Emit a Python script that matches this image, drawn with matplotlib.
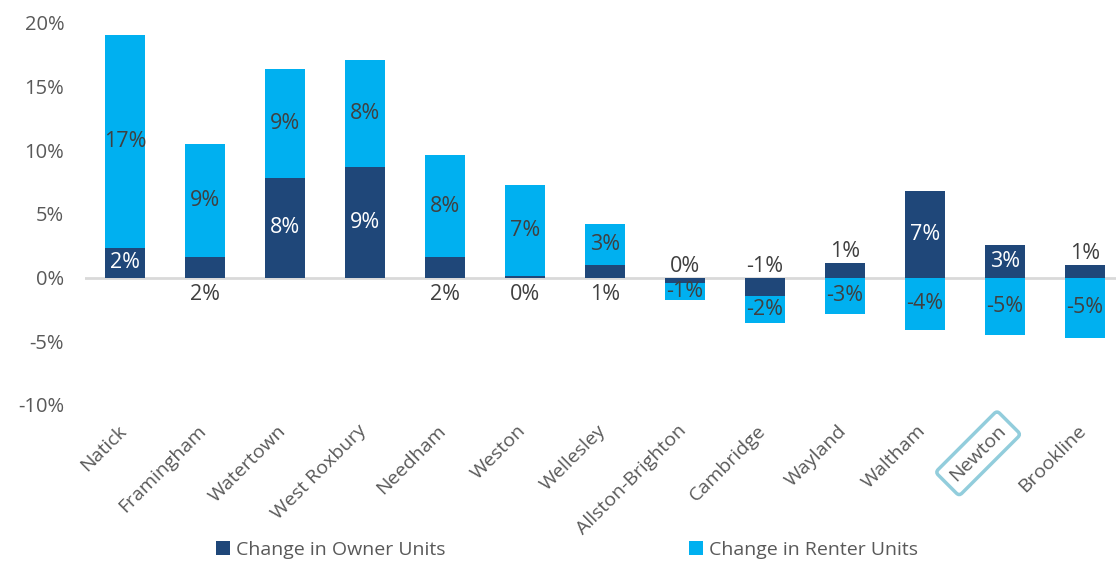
import matplotlib
matplotlib.use("Agg")
import matplotlib.pyplot as plt
import matplotlib.transforms as mtransforms
import numpy as np

categories = ["Natick", "Framingham", "Watertown", "West Roxbury", "Needham", "Weston",
              "Wellesley", "Allston-Brighton", "Cambridge", "Wayland", "Waltham", "Newton", "Brookline"]
owner = [2.3, 1.6, 7.8, 8.7, 1.6, 0.15, 1.0, -0.42, -1.46, 1.12, 6.82, 2.55, 0.98]
renter = [16.7, 8.85, 8.6, 8.4, 8.0, 7.15, 3.2, -1.35, -2.14, -2.87, -4.14, -4.53, -4.77]
yticks = [-10, -5, 0, 5, 10, 15, 20]

# owner label placement: 'in' = centered inside, 'below' = under axis, 'above' = over bar
owner_place = ["in", "below", "in", "in", "below", "below", "below",
               "above", "above", "above", "in", "in", "above"]

OWNER_C = "#1F4779"
RENTER_C = "#00B0F0"
LABEL_C = "#404040"
TICK_C = "#595959"

plt.rcParams['font.family'] = ['Open Sans', 'DejaVu Sans']

fig = plt.figure(figsize=(11.16, 5.62), dpi=100)
ax = fig.add_axes([85 / 1116, 1 - 405 / 562, 1040 / 1116, (405 - 22.7) / 562])

x = np.arange(len(categories))
own = np.array(owner)
ren = np.array(renter)
w = 0.5
ax.bar(x, own, width=w, color=OWNER_C, label="Change in Owner Units", zorder=2)
# renter stacked on owner when same sign, else from 0
base = np.where(np.sign(own) == np.sign(ren), own, 0.0)
ax.bar(x, ren, width=w, bottom=base, color=RENTER_C, label="Change in Renter Units", zorder=2)

ax.axhline(0, color="#D9D9D9", lw=2, zorder=1)

fs = 15.5
for i in range(len(categories)):
    o = own[i]
    r = ren[i]
    olab = f"{round(o):.0f}%".replace("-0%", "0%")
    rlab = f"{round(r):.0f}%".replace("-0%", "0%")
    pl = owner_place[i]
    if pl == "in":
        ax.text(x[i], o / 2, olab, ha="center", va="center", color="white", fontsize=fs, zorder=3)
    elif pl == "below":
        ax.text(x[i], -1.3, olab, ha="center", va="center", color=LABEL_C, fontsize=fs, zorder=3)
    else:
        top = max(o, 0)
        ax.text(x[i], top + 0.9, olab, ha="center", va="center", color=LABEL_C, fontsize=fs, zorder=3)
    ax.text(x[i], base[i] + r / 2, rlab, ha="center", va="center", color=LABEL_C, fontsize=fs, zorder=3)

ax.set_xlim(-0.5, 12.5)
ax.set_ylim(-10, 20)
ax.set_yticks(yticks)
ax.set_yticklabels([f"{t}%" for t in yticks], color=TICK_C, fontsize=14.5)
ax.tick_params(axis="y", length=0, pad=15)
ax.tick_params(axis="x", length=0, pad=12)
ax.set_xticks(x)
ax.set_xticklabels(categories, rotation=45, ha="right", va="top",
                   rotation_mode="anchor", color=TICK_C, fontsize=14)
shift = mtransforms.ScaledTranslation(-8 / 100, 0, fig.dpi_scale_trans)
for lbl in ax.get_xticklabels():
    lbl.set_transform(lbl.get_transform() + shift)
    if lbl.get_text() == "Newton":
        lbl.set_bbox(dict(boxstyle="round,pad=0.4,rounding_size=0.2", fc="none",
                          ec="#92CDDC", lw=2.5))
for s in ax.spines.values():
    s.set_visible(False)

fig.legend(loc="center", bbox_to_anchor=(0.508, 12 / 562), ncol=2, frameon=False,
           fontsize=14, handlelength=0.75, handleheight=0.75, handletextpad=0.3,
           columnspacing=12.5, labelcolor=TICK_C)

fig.savefig("out.png", dpi=100)
